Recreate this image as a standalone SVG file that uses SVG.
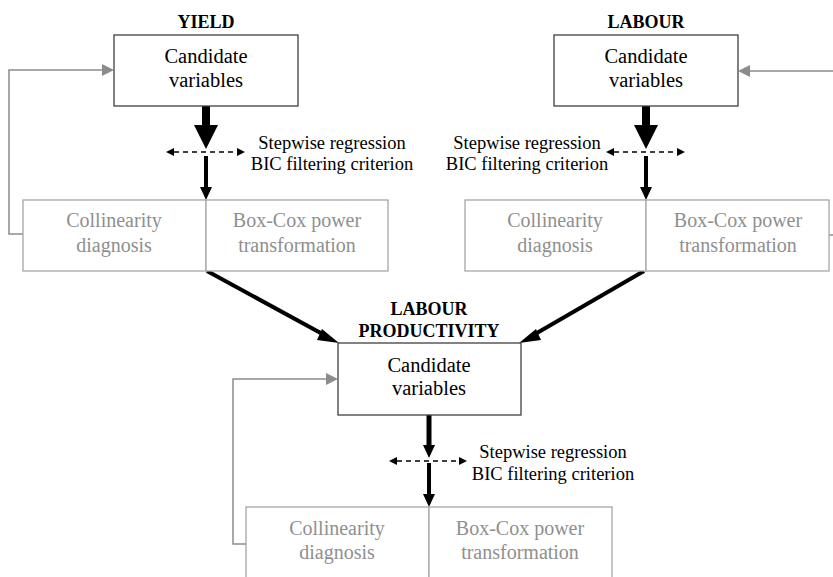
<svg xmlns="http://www.w3.org/2000/svg" width="833" height="577" viewBox="0 0 833 577">
<defs>
<style>
text{font-family:"Liberation Serif","Times New Roman",serif;}
.title{font-size:18px;font-weight:bold;fill:#000;text-anchor:middle;}
.cand{font-size:20.5px;fill:#000;text-anchor:middle;}
.step{font-size:18.5px;fill:#000;text-anchor:middle;}
.gtxt{font-size:20px;fill:#8f8f8f;text-anchor:middle;}
.cbox{fill:#fff;stroke:#404040;stroke-width:1.3;}
.gbox{fill:#fff;stroke:#a6a6a6;stroke-width:1.3;}
.fb{fill:none;stroke:#8c8c8c;stroke-width:1.5;}
.thick{stroke:#000;stroke-width:8;fill:none;}
.mid{stroke:#000;stroke-width:4;fill:none;}
.lp{stroke:#000;stroke-width:5;fill:none;}
.thin{stroke:#000;stroke-width:4;fill:none;}
.dash{stroke:#000;stroke-width:1.5;stroke-dasharray:5,4;fill:none;}
.ah{fill:#000;}
.gh{fill:#8c8c8c;}
</style>
</defs>

<g id="connectors">
  <!-- YIELD -->
  <path class="thick" d="M206,106 V126"/>
  <path class="ah" d="M194,125 H218 L206,149 z"/>
  <path class="dash" d="M174,152 H237"/>
  <path class="ah" d="M174,148 L166,152 L174,156 z"/>
  <path class="ah" d="M237,148 L245,152 L237,156 z"/>
  <path class="thin" d="M206,156 V188"/>
  <path class="ah" d="M200,187 H212 L206,200 z"/>
  <path class="fb" d="M23,234 H9 V70 H104"/>
  <path class="gh" d="M102,64 L114,70 L102,76 z"/>

  <!-- LABOUR -->
  <path class="thick" d="M646,106 V126"/>
  <path class="ah" d="M634,125 H658 L646,149 z"/>
  <path class="dash" d="M614,152 H677"/>
  <path class="ah" d="M614,148 L606,152 L614,156 z"/>
  <path class="ah" d="M677,148 L685,152 L677,156 z"/>
  <path class="thin" d="M646,156 V188"/>
  <path class="ah" d="M640,187 H652 L646,200 z"/>
  <path class="fb" d="M833,71 H748"/>
  <path class="gh" d="M750,65 L738,71 L750,77 z"/>
  <path class="fb" d="M829,235 H833"/>

  <!-- to LABOUR PRODUCTIVITY -->
  <path class="mid" d="M207,271 L328,337"/>
  <path class="ah" d="M322,329 L339,343 L317,340 z"/>
  <path class="mid" d="M644,271 L530,337"/>
  <path class="ah" d="M536,329 L519,343 L541,340 z"/>

  <!-- LABOUR PRODUCTIVITY -->
  <path class="lp" d="M429,415 V446"/>
  <path class="ah" d="M423,445 H435 L429,458 z"/>
  <path class="dash" d="M397,461 H459"/>
  <path class="ah" d="M397,457 L389,461 L397,465 z"/>
  <path class="ah" d="M459,457 L467,461 L459,465 z"/>
  <path class="thin" d="M429,463 V495"/>
  <path class="ah" d="M423,494 H435 L429,507 z"/>
  <path class="fb" d="M246,544 H233 V379 H328"/>
  <path class="gh" d="M326,373 L338,379 L326,385 z"/>
</g>

<g id="yield-candidate">
  <text class="title" x="206" y="28">YIELD</text>
  <rect class="cbox" x="114" y="35" width="184" height="71"/>
  <text class="cand" x="206" y="63">Candidate</text>
  <text class="cand" x="206" y="87">variables</text>
</g>
<g id="yield-step">
  <text class="step" x="332" y="149">Stepwise regression</text>
  <text class="step" x="332" y="170">BIC filtering criterion</text>
</g>
<g id="yield-collinearity">
  <rect class="gbox" x="23" y="200" width="183" height="71"/>
  <text class="gtxt" x="114" y="227">Collinearity</text>
  <text class="gtxt" x="114" y="252">diagnosis</text>
</g>
<g id="yield-boxcox">
  <rect class="gbox" x="206" y="200" width="182" height="71"/>
  <text class="gtxt" x="297" y="227">Box-Cox power</text>
  <text class="gtxt" x="297" y="252">transformation</text>
</g>

<g id="labour-candidate">
  <text class="title" x="646" y="28">LABOUR</text>
  <rect class="cbox" x="554" y="35" width="184" height="71"/>
  <text class="cand" x="646" y="63">Candidate</text>
  <text class="cand" x="646" y="87">variables</text>
</g>
<g id="labour-step">
  <text class="step" x="527" y="149">Stepwise regression</text>
  <text class="step" x="527" y="170">BIC filtering criterion</text>
</g>
<g id="labour-collinearity">
  <rect class="gbox" x="465" y="200" width="181" height="71"/>
  <text class="gtxt" x="555" y="227">Collinearity</text>
  <text class="gtxt" x="555" y="252">diagnosis</text>
</g>
<g id="labour-boxcox">
  <rect class="gbox" x="646" y="200" width="183" height="71"/>
  <text class="gtxt" x="738" y="227">Box-Cox power</text>
  <text class="gtxt" x="738" y="252">transformation</text>
</g>

<g id="lp-candidate">
  <text class="title" x="429" y="315">LABOUR</text>
  <text class="title" x="429" y="337">PRODUCTIVITY</text>
  <rect class="cbox" x="338" y="343" width="183" height="72"/>
  <text class="cand" x="429" y="372">Candidate</text>
  <text class="cand" x="429" y="395">variables</text>
</g>
<g id="lp-step">
  <text class="step" x="553" y="458">Stepwise regression</text>
  <text class="step" x="553" y="480">BIC filtering criterion</text>
</g>
<g id="lp-collinearity">
  <rect class="gbox" x="246" y="507" width="183" height="80"/>
  <text class="gtxt" x="337" y="535">Collinearity</text>
  <text class="gtxt" x="337" y="559">diagnosis</text>
</g>
<g id="lp-boxcox">
  <rect class="gbox" x="429" y="507" width="183" height="80"/>
  <text class="gtxt" x="520" y="535">Box-Cox power</text>
  <text class="gtxt" x="520" y="559">transformation</text>
</g>
</svg>
